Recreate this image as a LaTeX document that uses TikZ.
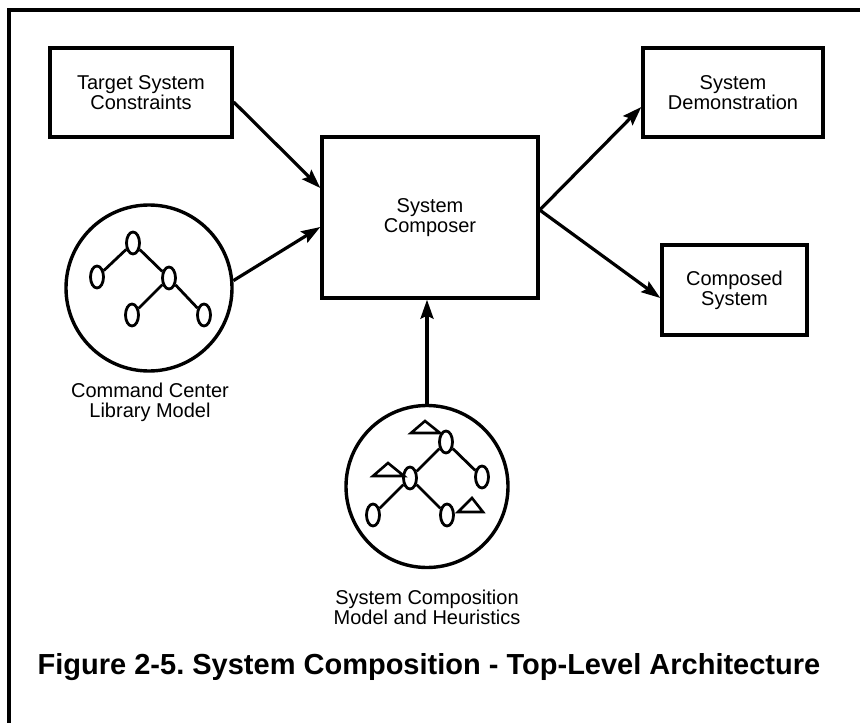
\documentclass[tikz,border=0pt]{standalone}
\usepackage{fontspec}
\setmainfont{Liberation Sans}
\usetikzlibrary{arrows.meta,shapes.geometric,calc}
\frenchspacing
\begin{document}
\begin{tikzpicture}[x=1pt,y=-1pt,
  box/.style={draw,line width=3.4pt,rectangle,inner sep=0pt,align=center,
    font=\fontsize{20}{20}\selectfont},
  lbl/.style={align=center,font=\fontsize{20}{20}\selectfont,inner sep=0pt},
  ball/.style={draw,line width=3.4pt,circle,inner sep=0pt,minimum size=#1},
  leaf/.style={draw,line width=2.8pt,ellipse,fill=white,inner sep=0pt,minimum width=13pt,minimum height=22pt},
  edge/.style={line width=2.8pt},
  flag/.style={draw,line width=2.6pt,line join=miter,fill=white},
  arr/.style={line width=3.2pt,-{Stealth[length=19pt,width=13pt,inset=3pt]}}
]
\useasboundingbox (0,0) rectangle (860,723);
% frame
\draw[line width=3.2pt] (9,723) -- (9,10) -- (860,10);

% boxes
\node[box,minimum width=182pt,minimum height=89pt] (tgt) at (141,92.5) {Target System\\Constraints};
\node[box,minimum width=216pt,minimum height=161pt] (comp) at (430,217.5) {System\\Composer};
\node[box,minimum width=180pt,minimum height=89pt] (demo) at (733,92.5) {System\\Demonstration};
\node[box,minimum width=145pt,minimum height=90pt] (cs) at (734.5,290) {Composed\\System};

% circles
\node[ball=166pt] (lib) at (149,288) {};
\node[ball=162pt] (heu) at (427,486.5) {};

% left tree
\node[leaf] (a1) at (133,243) {};
\node[leaf] (a2) at (97,277) {};
\node[leaf] (a3) at (169,278) {};
\node[leaf] (a4) at (132,315) {};
\node[leaf] (a5) at (204,315) {};
\draw[edge] (a1) -- (a2);
\draw[edge] (a1) -- (a3);
\draw[edge] (a3) -- (a4);
\draw[edge] (a3) -- (a5);

% bottom tree
\node[leaf] (b1) at (446,442) {};
\node[leaf] (b2) at (410,478) {};
\node[leaf] (b3) at (482,477) {};
\node[leaf] (b4) at (373,515) {};
\node[leaf] (b5) at (447,515) {};
\draw[edge] (b1) -- (b2);
\draw[edge] (b1) -- (b3);
\draw[edge] (b2) -- (b4);
\draw[edge] (b2) -- (b5);
\draw[flag] (411,433) -- (425,421) -- (440,433) -- cycle;
\draw[flag] (373,476) -- (388,463) -- (404,476) -- cycle;
\draw[flag] (458,512) -- (472,498) -- (483,512) -- cycle;

% labels
\node[lbl] (liblbl) at (150,402) {Command Center\\Library Model};
\node[lbl] (heulbl) at (427,607) {System Composition\\Model and Heuristics};
\node[font=\fontsize{29}{30}\selectfont\bfseries,inner sep=0pt] (cap) at (429,667) {Figure 2-5. System Composition - Top-Level Architecture};

% connectors
\draw[arr] ([yshift=-9.5pt]tgt.east) -- ([yshift=29.5pt]comp.west);
\draw[arr] (lib.5) -- ([yshift=-9.5pt]comp.west);
\draw[arr] (heu.north) -- (heu.north |- comp.south);
\draw[arr] ([yshift=7.5pt]comp.east) -- ([yshift=-14.5pt]demo.west);
\draw[arr] ([yshift=7.5pt]comp.east) -- ([yshift=-8pt]cs.west);
\end{tikzpicture}
\end{document}
